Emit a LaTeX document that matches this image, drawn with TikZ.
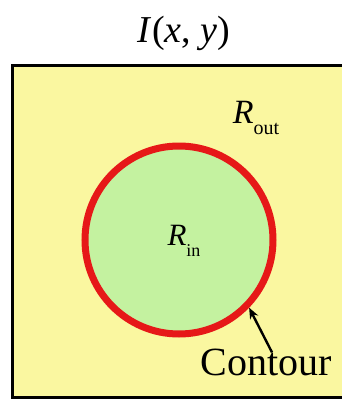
\documentclass[tikz,border=0pt]{standalone}
\usepackage{fontspec}
\setmainfont{Liberation Serif}
\usetikzlibrary{arrows.meta}

\definecolor{bgyellow}{RGB}{250,247,160}
\definecolor{ingreen}{RGB}{196,242,160}
\definecolor{cred}{RGB}{230,24,24}

\begin{document}
\begin{tikzpicture}[x=1pt,y=-1pt,
    lbl/.style={inner sep=0pt, text=black},
    region/.style={circle, draw=cred, fill=ingreen, line width=7pt, minimum size=188pt}]
                \useasboundingbox (0,0) rectangle (341,399);
                \fill[white] (0,0) rectangle (341,399);
                % image domain
                \filldraw[fill=bgyellow, draw=black, line width=3pt] (12.5,65) rectangle (346,397.5);
                \node[lbl, font=\fontsize{38}{40}\selectfont] (title) at (184,33) {\textit{I}(\textit{x}, \textit{y})};
                % contour and regions
                \node[region] (cont) at (179,240) {};
                \node[lbl, font=\fontsize{31}{32}\selectfont] (rin) at (184,241) {\textit{R}\raisebox{-0.35em}{\fontsize{18}{18}\selectfont in}};
                \node[lbl, font=\fontsize{34}{36}\selectfont] (rout) at (256,118) {\textit{R}\raisebox{-0.35em}{\fontsize{20}{20}\selectfont out}};
                \node[lbl, font=\fontsize{40}{42}\selectfont] (name) at (266,362) {Contour};
                \draw[-{Stealth[length=11pt,width=9pt]}, line width=2.4pt] ([xshift=6pt,yshift=-4pt]name.north) -- (cont.-44);
            \end{tikzpicture}
\end{document}
